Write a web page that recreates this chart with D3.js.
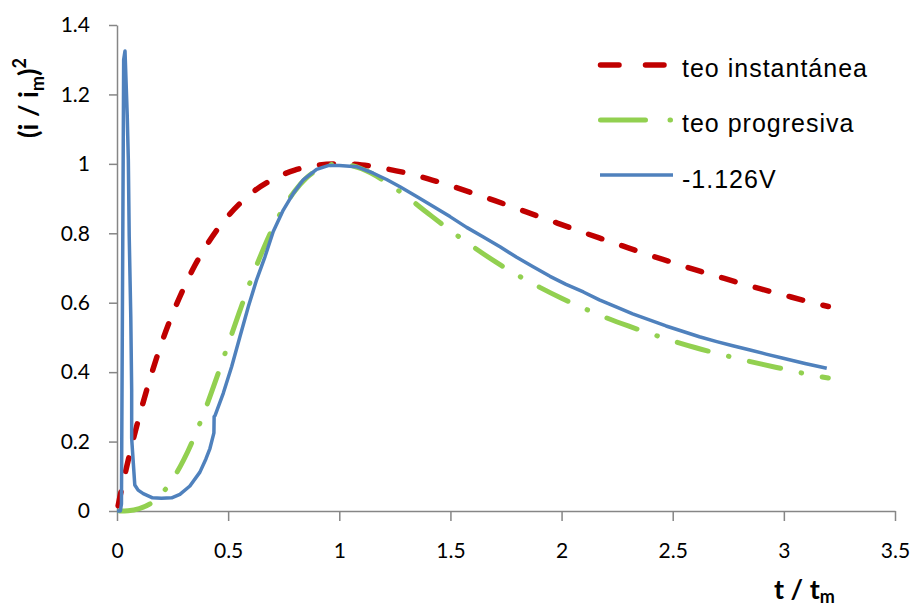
<!DOCTYPE html>
<html>
<head>
<meta charset="utf-8">
<title>Transitorio adimensional</title>
<script src="https://d3js.org/d3.v7.min.js"></script>
<style>
  body { margin: 0; background: #fff; }
  svg { display: block; background: #fff; }
  .axis path, .axis line { stroke: #868686; stroke-width: 1.5; }
  .axis text { font-family: Lato, "Open Sans", sans-serif; font-size: 21px; fill: #000; }
  .legend text { font-family: "Liberation Sans", Arial, sans-serif; font-size: 25px; letter-spacing: 1px; fill: #000; }
  .title { font-family: Lato, sans-serif; font-weight: bold; font-size: 27px; fill: #000; }
</style>
</head>
<body>
<svg width="916" height="610"></svg>
<script>
// teo instantánea
const instX = [0.005, 0.01, 0.025, 0.05, 0.075, 0.1, 0.15, 0.2, 0.25, 0.3, 0.35, 0.4, 0.45, 0.5,
  0.6, 0.7, 0.8, 0.9, 1.0, 1.1, 1.2, 1.3, 1.4, 1.5, 1.6, 1.7, 1.8, 1.9, 2.0,
  2.1, 2.2, 2.3, 2.4, 2.5, 2.6, 2.7, 2.8, 2.9, 3.0, 3.1, 3.2];
const instY = [0.015, 0.031, 0.075, 0.145, 0.211, 0.272, 0.384, 0.483, 0.568, 0.642, 0.707, 0.762, 0.810, 0.850,
  0.913, 0.955, 0.982, 0.996, 1.000, 0.997, 0.987, 0.974, 0.957, 0.937, 0.916, 0.894, 0.871, 0.848, 0.825,
  0.802, 0.780, 0.758, 0.736, 0.716, 0.695, 0.676, 0.657, 0.639, 0.622, 0.605, 0.589];

// teo progresiva
const progX = [0.01, 0.05, 0.1, 0.15, 0.2, 0.25, 0.3, 0.35, 0.4, 0.45, 0.5, 0.55, 0.6, 0.65, 0.7, 0.75,
  0.8, 0.85, 0.9, 0.95, 1.0, 1.1, 1.2, 1.3, 1.4, 1.5, 1.6, 1.7, 1.8, 1.9, 2.0,
  2.1, 2.2, 2.3, 2.4, 2.5, 2.6, 2.7, 2.8, 2.9, 3.0, 3.1, 3.2];
const progY = [0.000, 0.001, 0.007, 0.021, 0.049, 0.091, 0.147, 0.217, 0.298, 0.387, 0.480, 0.572, 0.661, 0.742, 0.814, 0.874,
  0.922, 0.958, 0.982, 0.996, 1.000, 0.986, 0.952, 0.907, 0.857, 0.808, 0.762, 0.719, 0.680, 0.645, 0.613,
  0.584, 0.557, 0.533, 0.511, 0.490, 0.471, 0.454, 0.438, 0.423, 0.409, 0.395, 0.383];

// -1.126V (experimental)
const expX = [0.000, 0.015, 0.020, 0.030, 0.036, 0.046, 0.051, 0.055, 0.062, 0.066, 0.066, 0.068, 0.080, 0.095,
  0.118, 0.160, 0.200, 0.246, 0.283, 0.328, 0.373, 0.400, 0.418, 0.436, 0.437, 0.441, 0.478, 0.516,
  0.553, 0.591, 0.628, 0.666, 0.703, 0.748, 0.793, 0.838, 0.898, 0.950, 1.000, 1.078, 1.153, 1.213,
  1.273, 1.348, 1.423, 1.498, 1.573, 1.648, 1.723, 1.798, 1.870, 1.948, 2.020, 2.098, 2.170, 2.248,
  2.320, 2.398, 2.470, 2.547, 2.620, 2.698, 2.770, 2.848, 2.920, 2.997, 3.095, 3.193];
const expY = [0.000, 0.000, 0.020, 1.300, 1.325, 1.140, 1.010, 0.790, 0.560, 0.350, 0.210, 0.190, 0.075, 0.060,
  0.050, 0.038, 0.037, 0.038, 0.048, 0.072, 0.112, 0.150, 0.180, 0.225, 0.272, 0.275, 0.339, 0.416,
  0.502, 0.589, 0.666, 0.733, 0.805, 0.867, 0.915, 0.954, 0.984, 0.995, 0.995, 0.992, 0.973, 0.955,
  0.934, 0.906, 0.877, 0.848, 0.817, 0.789, 0.761, 0.731, 0.704, 0.676, 0.653, 0.631, 0.608, 0.587,
  0.568, 0.550, 0.533, 0.517, 0.502, 0.488, 0.476, 0.464, 0.452, 0.440, 0.425, 0.411];

const seriesNames = ["teo instantánea", "teo progresiva", "-1.126V"];
const xTicks = [0, 0.5, 1, 1.5, 2, 2.5, 3, 3.5];
const yTicks = [0, 0.2, 0.4, 0.6, 0.8, 1, 1.2, 1.4];

const svg = d3.select("svg");

const x = d3.scaleLinear().domain([0, 3.5]).range([117, 895]);
const y = d3.scaleLinear().domain([0, 1.4]).range([511, 25]);

svg.append("g")
  .attr("class", "axis")
  .attr("transform", "translate(0,511)")
  .call(d3.axisBottom(x).tickValues(xTicks).tickFormat(d => String(d))
    .tickSize(10).tickSizeOuter(0).tickPadding(22));

svg.append("g")
  .attr("class", "axis")
  .attr("transform", "translate(117,0)")
  .call(d3.axisLeft(y).tickValues(yTicks).tickFormat(d => String(d))
    .tickSize(8).tickSizeOuter(0).tickPadding(19));

const line = d3.line().x(d => x(d[0])).y(d => y(d[1]));
const smooth = d3.line().x(d => x(d[0])).y(d => y(d[1])).curve(d3.curveMonotoneX);

svg.append("path")
  .datum(d3.zip(instX, instY))
  .attr("d", smooth)
  .attr("fill", "none")
  .attr("stroke", "#C00000")
  .attr("stroke-width", 5.5)
  .attr("stroke-linecap", "round")
  .attr("stroke-dasharray", "14,21");

svg.append("path")
  .datum(d3.zip(progX, progY))
  .attr("d", smooth)
  .attr("fill", "none")
  .attr("stroke", "#92D050")
  .attr("stroke-width", 5)
  .attr("stroke-linecap", "round")
  .attr("stroke-dasharray", "32,21,0.5,21");

svg.append("path")
  .datum(d3.zip(expX, expY))
  .attr("d", line)
  .attr("fill", "none")
  .attr("stroke", "#4F81BD")
  .attr("stroke-width", 3.5)
  .attr("stroke-linejoin", "round");

// legend
const legend = svg.append("g").attr("class", "legend");
legend.append("line")
  .attr("x1", 600.5).attr("x2", 665).attr("y1", 65).attr("y2", 65)
  .attr("stroke", "#C00000").attr("stroke-width", 5.5)
  .attr("stroke-linecap", "round").attr("stroke-dasharray", "18.5,26.5");
legend.append("line")
  .attr("x1", 600.5).attr("x2", 671).attr("y1", 120).attr("y2", 120)
  .attr("stroke", "#92D050").attr("stroke-width", 5)
  .attr("stroke-linecap", "round").attr("stroke-dasharray", "45,24.5,0.5,100");
legend.append("line")
  .attr("x1", 600).attr("x2", 673).attr("y1", 175).attr("y2", 175)
  .attr("stroke", "#4F81BD").attr("stroke-width", 3.5);
legend.selectAll("text")
  .data(seriesNames)
  .enter()
  .append("text")
  .attr("x", 682)
  .attr("y", (d, i) => [77, 132, 188][i])
  .text(d => d);

// axis titles
const yTitle = svg.append("text")
  .attr("class", "title")
  .attr("transform", "translate(38,98) rotate(-90)")
  .attr("text-anchor", "middle");
yTitle.append("tspan").text("(i / i");
yTitle.append("tspan").attr("font-size", 18).attr("dy", 6).text("m");
yTitle.append("tspan").attr("dy", -6).text(")");
yTitle.append("tspan").attr("font-size", 18).attr("dy", -12).text("2");

const xTitle = svg.append("text")
  .attr("class", "title")
  .attr("x", 774)
  .attr("y", 599);
xTitle.append("tspan").text("t / t");
xTitle.append("tspan").attr("font-size", 18).attr("dy", 4).text("m");
</script>
</body>
</html>
